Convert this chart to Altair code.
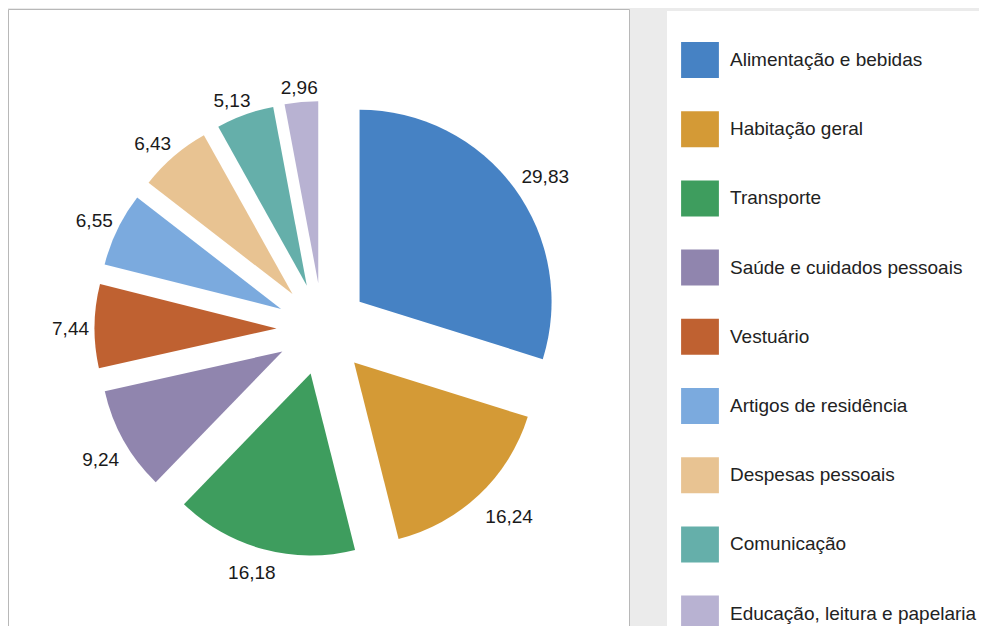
import altair as alt
import pandas as pd
import math

categories = [
    "Alimentação e bebidas",
    "Habitação geral",
    "Transporte",
    "Saúde e cuidados pessoais",
    "Vestuário",
    "Artigos de residência",
    "Despesas pessoais",
    "Comunicação",
    "Educação, leitura e papelaria",
]
values = [29.83, 16.24, 16.18, 9.24, 7.44, 6.55, 6.43, 5.13, 2.96]
labels = ["29,83", "16,24", "16,18", "9,24", "7,44", "6,55", "6,43", "5,13", "2,96"]
colors = [
    "#4682C4", "#D49A36", "#3E9D5E", "#9085AE", "#BF6131",
    "#7BAADE", "#E8C392", "#65AFAA", "#B8B2D2",
]

df = pd.DataFrame({
    "cat": categories,
    "value": values,
    "label": labels,
    "order": list(range(len(categories))),
})

# layout constants (pixels in plot area)
CX, CY, D = 314.5, 321.0, 46.0
R_BIG, R = 192, 182
GAP, CHAR_HW, UP_H, DOWN_H = 8, 4.5, 9, 13
FONT = "Liberation Sans"

theta_scale = alt.Scale(domain=[0, 1], range=[0, 2 * math.pi])

base = (
    alt.Chart(df)
    .transform_joinaggregate(total="sum(value)")
    .transform_window(cum="sum(value)", sort=[alt.SortField("order")], frame=[None, 0])
    .transform_calculate(start="(datum.cum - datum.value) / datum.total")
    .transform_calculate(end="datum.cum / datum.total")
    .transform_calculate(mid="(datum.start + datum.end) / 2")
    .transform_calculate(sn="sin(2 * PI * datum.mid)")
    .transform_calculate(cs="cos(2 * PI * datum.mid)")
    .transform_calculate(px=f"{CX} + {D} * datum.sn")
    .transform_calculate(py=f"{CY} - {D} * datum.cs")
    .transform_calculate(r=f"datum.order == 0 ? {R_BIG} : {R}")
    .transform_calculate(sy="clamp(-2 * datum.cs, -1, 1)")
    .transform_calculate(
        lx=f"datum.px + (datum.r + {GAP}) * datum.sn"
           f" + {CHAR_HW} * length(datum.label) * clamp(2 * datum.sn, -1, 1)"
    )
    .transform_calculate(
        ly=f"datum.py - (datum.r + {GAP}) * datum.cs"
           f" + (datum.sy > 0 ? {DOWN_H} : {UP_H}) * datum.sy"
    )
)

arcs = base.mark_arc(strokeWidth=0).encode(
    x=alt.X("px:Q", scale=None, axis=None),
    y=alt.Y("py:Q", scale=None, axis=None),
    theta=alt.Theta("start:Q", scale=theta_scale),
    theta2="end:Q",
    radius=alt.Radius("r:Q", scale=None),
    color=alt.Color(
        "cat:N",
        scale=alt.Scale(domain=categories, range=colors),
        legend=alt.Legend(
            title=None,
            orient="none",
            legendX=674,
            legendY=34,
            symbolType="M-1.05,-1H1.05V1H-1.05Z",
            symbolSize=1296,
            symbolStrokeWidth=0,
            symbolOpacity=1,
            labelFont=FONT,
            labelFontSize=19,
            labelColor="#222222",
            labelLimit=400,
            labelOffset=12,
            rowPadding=33.2,
            padding=0,
        ),
    ),
)

texts = base.mark_text(
    font=FONT, fontSize=19, color="#1a1a1a", align="center", baseline="middle",
    dx=2, dy=3,
).encode(
    x=alt.X("lx:Q", scale=None, axis=None),
    y=alt.Y("ly:Q", scale=None, axis=None),
    text="label:N",
)

blank = alt.Data(values=[{}])
panel = alt.Chart(blank).mark_rect(fill="white", stroke="#b8b8b8", strokeWidth=1).encode(
    x=alt.value(0.5), x2=alt.value(621.5), y=alt.value(1.5), y2=alt.value(700)
)
legbox = alt.Chart(blank).mark_rect(fill="white").encode(
    x=alt.value(659), x2=alt.value(1000), y=alt.value(3), y2=alt.value(700)
)

chart = (
    alt.layer(panel, legbox, arcs, texts)
    .properties(width=971, height=618, autosize=alt.AutoSizeParams(type="none"), padding=0)
    .configure(background="#ebebeb")
    .configure_view(stroke=None)
)

chart.save("out.html", embed_options={"renderer": "svg", "actions": False})
